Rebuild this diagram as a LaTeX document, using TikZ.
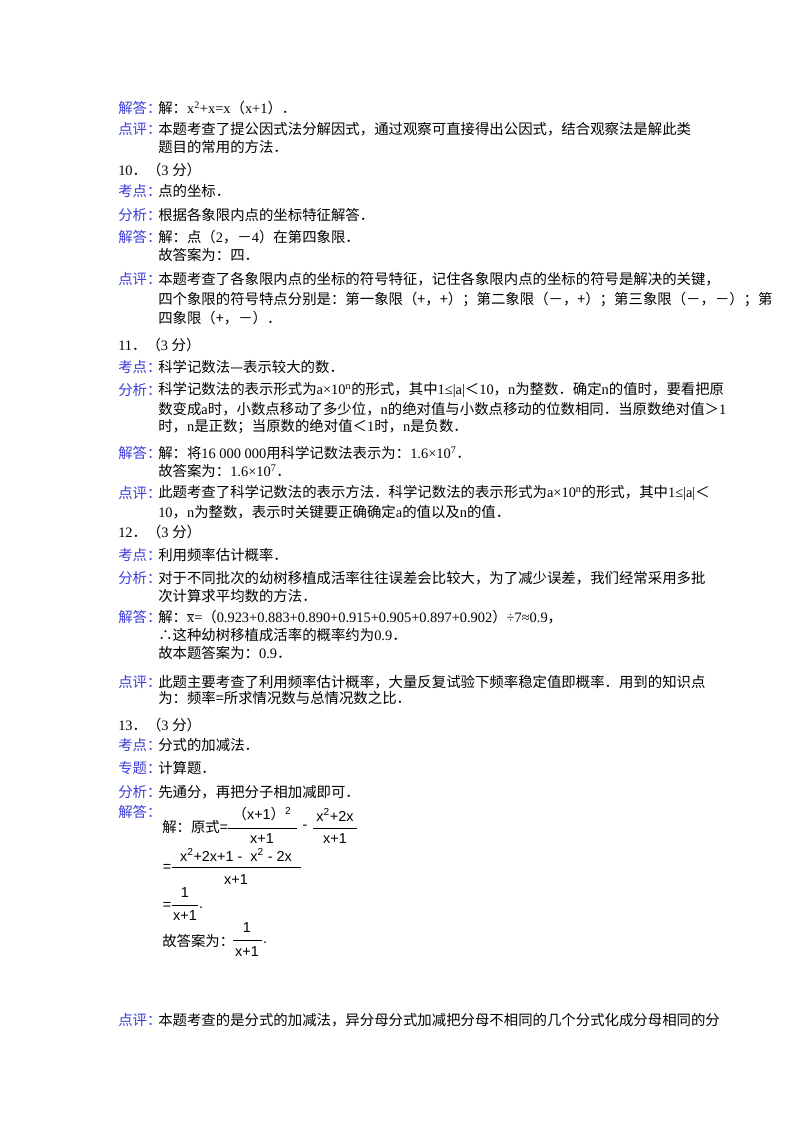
\documentclass[tikz,border=0pt]{standalone}
\usepackage{fontspec}
\setmainfont{Noto Sans CJK SC}
\newfontfamily\tnr{Liberation Serif}
\newfontfamily\frm{Liberation Sans}
\definecolor{lblblue}{RGB}{60,60,220}
\tikzset{
  lbl/.style={anchor=west, inner sep=0pt, text=lblblue, font=\fontsize{10.8}{12}\selectfont},
  txt/.style={anchor=west, inner sep=0pt, font=\fontsize{10.8}{12}\selectfont},
  frac/.style={inner sep=0pt, font=\frm\fontsize{10.8}{12}\selectfont},
  bar/.style={line width=0.6pt}
}
\begin{document}
\begin{tikzpicture}[x=0.75pt,y=-0.75pt]
\useasboundingbox (0,0) rectangle (800,1132);

% question 9 tail
\node[lbl] (l9a) at (118,108) {解答：};
\node[txt] (t9a) at (158,108) {解：{\tnr x\textsuperscript{2}+x=x}（{\tnr x+1}）．};
\node[lbl] (l9b) at (118,129) {点评：};
\node[txt] (t9b) at (158,129) {本题考查了提公因式法分解因式，通过观察可直接得出公因式，结合观察法是解此类};
\node[txt] (t9c) at (158,147) {题目的常用的方法．};

% question 10
\node[txt] (q10) at (118,170) {{\tnr 10}．（{\tnr 3 }分）};
\node[lbl] (l10a) at (118,191) {考点：};
\node[txt] (t10a) at (158,191) {点的坐标．};
\node[lbl] (l10b) at (118,215) {分析：};
\node[txt] (t10b) at (158,215) {根据各象限内点的坐标特征解答．};
\node[lbl] (l10c) at (118,237) {解答：};
\node[txt] (t10c) at (158,237) {解：点（{\tnr 2}，－{\tnr 4}）在第四象限．};
\node[txt] (t10d) at (158,255) {故答案为：四．};
\node[lbl] (l10d) at (118,279) {点评：};
\node[txt] (t10e) at (158,279) {本题考查了各象限内点的坐标的符号特征，记住各象限内点的坐标的符号是解决的关键，};
\node[txt] (t10f) at (158,299) {四个象限的符号特点分别是：第一象限（+，+）；第二象限（－，+）；第三象限（－，－）；第};
\node[txt] (t10g) at (158,318) {四象限（+，－）．};

% question 11
\node[txt] (q11) at (118,345) {{\tnr 11}．（{\tnr 3 }分）};
\node[lbl] (l11a) at (118,367) {考点：};
\node[txt] (t11a) at (158,367) {科学记数法—表示较大的数．};
\node[lbl] (l11b) at (118,390) {分析：};
\node[txt] (t11b) at (158,390) {科学记数法的表示形式为{\tnr a×10\textsuperscript{n}}的形式，其中{\tnr 1≤|a|}＜{\tnr 10}，{\tnr n}为整数．确定{\tnr n}的值时，要看把原};
\node[txt] (t11c) at (158,409) {数变成{\tnr a}时，小数点移动了多少位，{\tnr n}的绝对值与小数点移动的位数相同．当原数绝对值＞{\tnr 1}};
\node[txt] (t11d) at (158,427) {时，{\tnr n}是正数；当原数的绝对值＜{\tnr 1}时，{\tnr n}是负数．};
\node[lbl] (l11c) at (118,453) {解答：};
\node[txt] (t11e) at (158,453) {解：将{\tnr 16 000 000}用科学记数法表示为：{\tnr 1.6×10\textsuperscript{7}}．};
\node[txt] (t11f) at (158,471) {故答案为：{\tnr 1.6×10\textsuperscript{7}}．};
\node[lbl] (l11d) at (118,493) {点评：};
\node[txt] (t11g) at (158,493) {此题考查了科学记数法的表示方法．科学记数法的表示形式为{\tnr a×10\textsuperscript{n}}的形式，其中{\tnr 1≤|a|}＜};
\node[txt] (t11h) at (158,512) {{\tnr 10}，{\tnr n}为整数，表示时关键要正确确定{\tnr a}的值以及{\tnr n}的值．};

% question 12
\node[txt] (q12) at (118,532) {{\tnr 12}．（{\tnr 3 }分）};
\node[lbl] (l12a) at (118,555) {考点：};
\node[txt] (t12a) at (158,555) {利用频率估计概率．};
\node[lbl] (l12b) at (118,578) {分析：};
\node[txt] (t12b) at (158,578) {对于不同批次的幼树移植成活率往往误差会比较大，为了减少误差，我们经常采用多批};
\node[txt] (t12c) at (158,596) {次计算求平均数的方法．};
\node[lbl] (l12c) at (118,617) {解答：};
\node[txt] (t12d) at (158,617) {解：{\tnr $\overline{\mbox{x}}$=}（{\tnr 0.923+0.883+0.890+0.915+0.905+0.897+0.902}）{\tnr ÷7≈0.9}，};
\node[txt] (t12e) at (158,635) {∴这种幼树移植成活率的概率约为{\tnr 0.9}．};
\node[txt] (t12f) at (158,653) {故本题答案为：{\tnr 0.9}．};
\node[lbl] (l12d) at (118,682) {点评：};
\node[txt] (t12g) at (158,682) {此题主要考查了利用频率估计概率，大量反复试验下频率稳定值即概率．用到的知识点};
\node[txt] (t12h) at (158,698) {为：频率=所求情况数与总情况数之比．};

% question 13
\node[txt] (q13) at (118,725) {{\tnr 13}．（{\tnr 3 }分）};
\node[lbl] (l13a) at (118,745) {考点：};
\node[txt] (t13a) at (158,745) {分式的加减法．};
\node[lbl] (l13b) at (118,768) {专题：};
\node[txt] (t13b) at (158,768) {计算题．};
\node[lbl] (l13c) at (118,792) {分析：};
\node[txt] (t13c) at (158,792) {先通分，再把分子相加减即可．};
\node[lbl] (l13d) at (118,812) {解答：};

% formula lines
\node[txt] (f1) at (162,827) {解：原式=};
\draw[bar] (228,828) -- (297,828);
\node[frac] (n1) at (262,814) {{\rmfamily （}x+1{\rmfamily ）}\textsuperscript{2}};
\node[frac] (d1) at (262,839) {x+1};
\node[frac] (m1) at (305,827) {-};
\draw[bar] (313,828) -- (357,828);
\node[frac] (n2) at (335,815) {x\textsuperscript{2}+2x};
\node[frac] (d2) at (335,839) {x+1};

\node[frac] (e2) at (167,868) {=};
\draw[bar] (172,867) -- (301,867);
\node[frac] (n3) at (236,855) {x\textsuperscript{2}+2x+1 -\ \ x\textsuperscript{2} - 2x};
\node[frac] (d3) at (236,880) {x+1};

\node[frac] (e3) at (167,906) {=};
\draw[bar] (172,905) -- (198,905);
\node[frac] (n4) at (185,893) {1};
\node[frac] (d4) at (185,916) {x+1};
\node[frac] (p4) at (201,908) {.};

\node[txt] (f4) at (162,941) {故答案为：};
\draw[bar] (233,940) -- (262,940);
\node[frac] (n5) at (247,928) {1};
\node[frac] (d5) at (247,952) {x+1};
\node[frac] (p5) at (265,943) {.};

\node[lbl] (l13e) at (118,1020) {点评：};
\node[txt] (t13d) at (158,1020) {本题考查的是分式的加减法，异分母分式加减把分母不相同的几个分式化成分母相同的分};
\end{tikzpicture}
\end{document}
